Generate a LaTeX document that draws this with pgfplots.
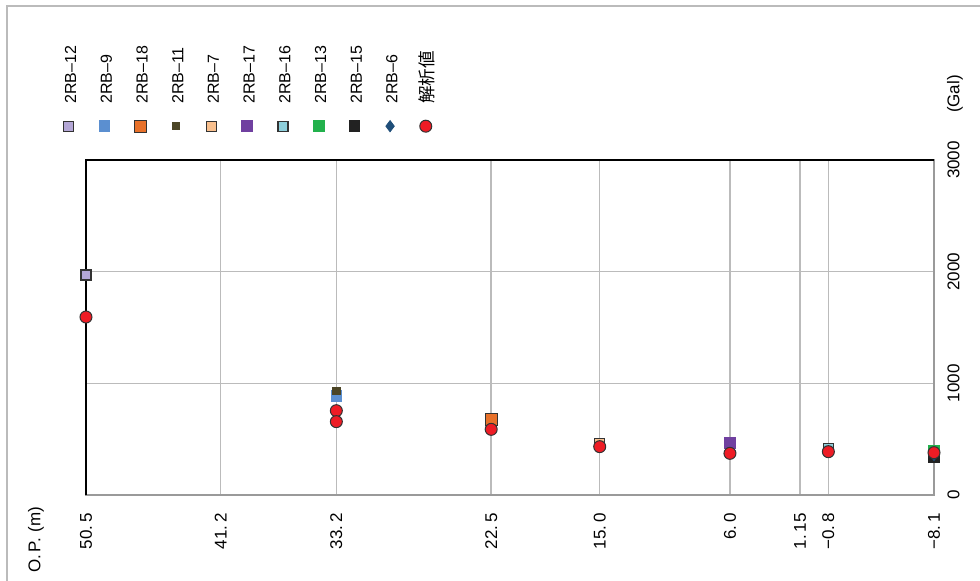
\documentclass[border=0pt]{standalone}
\usepackage{fontspec}
\setmainfont{Liberation Sans}
\newfontfamily\cjk{Noto Sans CJK JP}
\usepackage{pgfplots}
\pgfplotsset{compat=1.18}
\definecolor{cA}{HTML}{B4A7D6}
\definecolor{cB}{HTML}{5B8FD0}
\definecolor{cC}{HTML}{E8712A}
\definecolor{cD}{HTML}{4B4526}
\definecolor{cE}{HTML}{F9C08E}
\definecolor{cF}{HTML}{7040A0}
\definecolor{cG}{HTML}{8ECFDB}
\definecolor{cH}{HTML}{22B14C}
\definecolor{cI}{HTML}{222222}
\definecolor{cJ}{HTML}{1F4E79}
\definecolor{cK}{HTML}{EE1C25}
\definecolor{edge}{HTML}{333333}
\definecolor{gridc}{HTML}{BBBBBB}
\definecolor{axc}{HTML}{9A9A9A}
\begin{document}
\begin{tikzpicture}
\useasboundingbox (0,0) rectangle (490pt,-290.5pt);
\draw[gridc, line width=0.7pt] (3.5pt,-290.5pt) -- (3.5pt,-3pt) -- (490pt,-3pt);
\begin{axis}[
  scale only axis, width=424pt, height=167.5pt,
  at={(43pt,-247.5pt)}, anchor=south west,
  xmin=-8.1, xmax=50.5, x dir=reverse, ymin=0, ymax=3000,
  xtick={50.5,41.2,33.2,22.5,15,6,1.15,-0.8,-8.1},
  xticklabels={50.\,5,41.\,2,33.\,2,22.\,5,15.\,0,6.\,0,1.\,15,−0.\,8,−8.\,1},
  ytick={0,1000,2000,3000},
  yticklabels={0,1000,2000,3000},
  yticklabel pos=right,
  major tick length=0pt,
  xmajorgrids, ymajorgrids,
  grid style={gridc, line width=0.75pt},
  axis line style={axc, line width=1.1pt},
  ticklabel style={font=\fontsize{8.5}{9}\selectfont, inner sep=0pt},
  xticklabel style={rotate=90, anchor=east},
  yticklabel style={rotate=90, anchor=north},
  xticklabel shift=9pt,
  yticklabel shift=6.5pt,
  clip=false,
  legend columns=-1,
  legend cell align=left,
  legend image code/.code={\path (0pt,0pt);
    \begin{pgfinterruptboundingbox}\draw[#1] plot coordinates {(3.5pt,-11pt)};\end{pgfinterruptboundingbox}},
  legend style={at={(axis description cs:-0.0295,1.1642)}, anchor=south west,
    draw=none, fill=none, inner sep=0pt, column sep=0pt,
    /tikz/every even column/.append style={column sep=10.45pt},
    font=\fontsize{8}{9}\selectfont,
    nodes={rotate=90, anchor=west, inner sep=0pt, text height=7pt, text depth=0pt}},
]
\draw[black, line width=1.4pt] (axis cs:50.5,0) -- (axis cs:50.5,3000) -- (axis cs:-8.1,3000);
\addplot[only marks, mark=square*, mark size=2.5pt, mark options={fill=cA, draw=edge, line width=0.6pt}] coordinates {(50.5,1970)};
\addlegendentry{2RB–12}
\addplot[only marks, mark=square*, mark size=2.7pt, mark options={fill=cB, draw=cB}] coordinates {(33.2,889)};
\addlegendentry{2RB–9}
\addplot[only marks, mark=square*, mark size=3pt, mark options={fill=cC, draw=edge, line width=0.6pt}] coordinates {(22.5,678)};
\addlegendentry{2RB–18}
\addplot[only marks, mark=square*, mark size=1.8pt, mark options={fill=cD, draw=cD}] coordinates {(33.2,931)};
\addlegendentry{2RB–11}
\addplot[only marks, mark=square*, mark size=2.5pt, mark options={fill=cE, draw=edge, line width=0.6pt}] coordinates {(15.0,463)};
\addlegendentry{2RB–7}
\addplot[only marks, mark=square*, mark size=2.7pt, mark options={fill=cF, draw=cF}] coordinates {(6.0,463)};
\addlegendentry{2RB–17}
\addplot[only marks, mark=square*, mark size=2.5pt, mark options={fill=cG, draw=edge, line width=0.6pt}] coordinates {(-0.8,418)};
\addlegendentry{2RB–16}
\addplot[only marks, mark=square*, mark size=2.7pt, mark options={fill=cH, draw=cH}] coordinates {(-8.1,394)};
\addlegendentry{2RB–13}
\addplot[only marks, mark=square*, mark size=2.7pt, mark options={fill=cI, draw=cI}] coordinates {(-8.1,338)};
\addlegendentry{2RB–15}
\addplot[only marks, mark=diamond*, mark size=2.8pt, mark options={fill=cJ, draw=cJ}] coordinates {(-8.1,358)};
\addlegendentry{2RB–6}
\addplot[only marks, mark=*, mark size=3pt, mark options={fill=cK, draw=edge, line width=0.5pt}] coordinates {(50.5,1594) (33.2,755) (33.2,657) (22.5,588) (15.0,433) (6.0,373) (-0.8,388) (-8.1,379)};
\addlegendentry{{\cjk\fontsize{8.8}{10}\selectfont 解析値}}
\node[rotate=90, font=\fontsize{8.5}{9}\selectfont, inner sep=0pt] at (axis description cs:1.0248,1.197) {(Gal)};
\node[rotate=90, font=\fontsize{8.5}{9}\selectfont, inner sep=0pt] at (axis description cs:-0.059,-0.134) {O.\,P.\,\,(m)};
\end{axis}
\end{tikzpicture}
\end{document}
